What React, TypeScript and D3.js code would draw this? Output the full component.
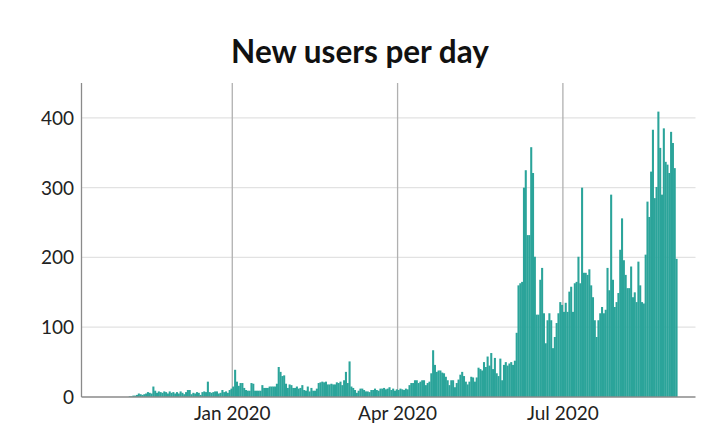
import React from "react";
import * as d3 from "d3";

const startDate = "2019-11-01";
const nov2019 = [0,0,0,0,1,1,2,2,3,5,4,3,4,5,7,6,5,15,9,6,8,7,6,8,7,5,8,6,7,5];
const dec2019 = [7,5,8,6,4,7,10,10,4,6,5,7,6,3,7,8,7,22,7,6,7,8,8,5,6,10,7,8,6,10,12];
const jan2020 = [15,39,22,16,20,20,13,10,9,9,20,19,9,9,9,9,17,13,13,13,15,15,15,15,19,43,36,30,31,19,13];
const feb2020 = [18,17,13,13,15,12,13,17,10,9,15,8,13,9,9,12,20,21,22,21,22,18,18,19,18,18,21,20,22];
const mar2020 = [17,24,36,20,51,15,13,10,6,9,12,12,10,8,8,7,10,10,12,10,9,12,12,13,11,12,14,10,12,9,11];
const apr2020 = [10,12,11,10,12,11,17,20,20,24,24,20,22,24,24,17,20,22,34,67,46,36,38,38,35,34,29,24,17,24];
const may2020 = [24,14,20,25,32,36,30,22,18,22,29,28,22,28,42,40,38,50,43,58,45,63,40,56,34,30,55,24,46,50,45];
const jun2020 = [48,50,46,52,92,160,163,165,300,325,232,232,358,321,201,118,118,168,185,120,77,110,120,110,70,86,106,120,136,132];
const jul2020 = [122,135,122,151,158,122,163,165,201,163,300,178,178,175,183,160,143,110,86,110,120,129,120,125,185,153,290,168,129,136,149];
const aug2020 = [211,256,196,175,156,156,187,143,150,136,194,160,136,134,204,280,258,323,383,285,301,409,357,290,385,337,333,321,380,364,328];
const sep2020 = [198];

const xDomain = ["2019-10-10", "2020-09-12"];
const yDomain = [0, 450];
const yTicks = [0, 100, 200, 300, 400];
const xTickDates = ["2020-01-01", "2020-04-01", "2020-07-01"];
const xTickLabels = ["Jan 2020", "Apr 2020", "Jul 2020"];
const title = "New users per day";

const values = [
  ...nov2019, ...dec2019, ...jan2020, ...feb2020, ...mar2020, ...apr2020,
  ...may2020, ...jun2020, ...jul2020, ...aug2020, ...sep2020,
];

export default function App() {
  const W = 720, H = 435;
  const left = 81.5, right = 695.5, top = 83, bottom = 397;
  const x = d3.scaleUtc().domain(xDomain.map((d) => new Date(d + "T00:00:00Z"))).range([left, right]);
  const y = d3.scaleLinear().domain(yDomain).range([bottom, top]);
  const start = new Date(startDate + "T00:00:00Z");
  const data = values.map((v, i) => ({ date: d3.utcDay.offset(start, i), value: v }));
  const font = "Lato, 'Noto Sans', sans-serif";
  const color = "#2ba49a";

  return (
    <svg width={W} height={H} style={{ position: "absolute", left: 0, top: 0, background: "#fff" }}>
      <text x={360} y={63} textAnchor="middle" fontFamily={font} fontWeight={700} fontSize={31.5} fill="#111">
        {title}
      </text>
      {yTicks.filter((t) => t > 0).map((t) => (
        <line key={"h" + t} x1={left} x2={right} y1={y(t)} y2={y(t)} stroke="#e2e2e2" strokeWidth={1.2} />
      ))}
      {xTickDates.map((d) => {
        const xx = x(new Date(d + "T00:00:00Z"));
        return <line key={"v" + d} x1={xx} x2={xx} y1={top} y2={bottom} stroke="#b0b0b0" strokeWidth={1.3} />;
      })}
      <g>
        {data.map((d, i) => {
          const x0 = x(d.date);
          const x1 = x(d3.utcDay.offset(d.date, 1));
          if (d.value <= 0) return null;
          return (
            <rect key={i} x={x0} y={y(d.value)} width={x1 - x0 + 0.25} height={bottom - y(d.value)} fill={color} />
          );
        })}
      </g>
      <line x1={left} x2={left} y1={top} y2={bottom} stroke="#8a8a8a" strokeWidth={1.3} />
      <line x1={left} x2={right} y1={bottom} y2={bottom} stroke="#8a8a8a" strokeWidth={1.3} />
      {yTicks.map((t) => (
        <text key={"yl" + t} x={74} y={y(t)} dy="0.36em" textAnchor="end" fontFamily={font} fontSize={19} fill="#222">
          {t}
        </text>
      ))}
      {xTickDates.map((d, i) => (
        <text key={"xl" + d} x={x(new Date(d + "T00:00:00Z"))} y={420} textAnchor="middle" fontFamily={font} fontSize={19} fill="#222">
          {xTickLabels[i]}
        </text>
      ))}
    </svg>
  );
}
